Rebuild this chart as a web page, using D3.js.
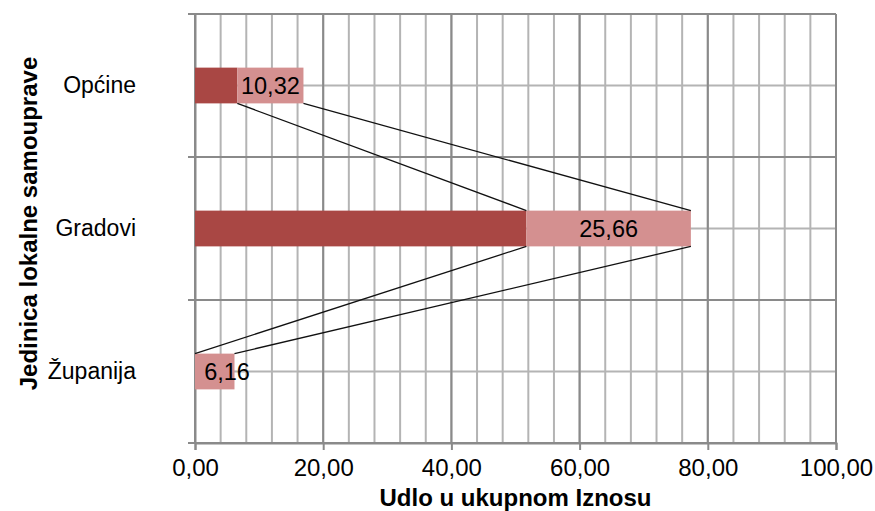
<!DOCTYPE html>
<html>
<head>
<meta charset="utf-8">
<script src="https://cdn.jsdelivr.net/npm/d3@7"></script>
<style>
  body { margin: 0; background: #fff; }
  text { font-family: "Liberation Sans", Arial, sans-serif; }
</style>
</head>
<body>
<div id="chart"></div>
<script>
const categories = ["Općine", "Gradovi", "Županija"]
const baseValues = [6.6, 51.7, 0]
const topValues = [10.32, 25.66, 6.16]
const majorTicks = [0, 20, 40, 60, 80, 100]
const minorTicks = d3.range(0, 101, 4)

const margin = { top: 14, right: 39, bottom: 68, left: 195 }
const width = 875 - margin.left - margin.right
const height = 511 - margin.top - margin.bottom

const svg = d3.select("#chart")
    .append("svg")
    .attr("width", 875)
    .attr("height", 511)
    .append("g")
    .attr("transform", `translate(${margin.left},${margin.top})`)

const x = d3.scaleLinear().domain([0, 100]).range([0, width])
const y = d3.scaleBand().domain(categories).range([0, height])
const barH = y.bandwidth() * 0.25
const fmt = v => d3.format(".2f")(v).replace(".", ",")

// minor gridlines
svg.selectAll(".vminor")
    .data(minorTicks)
    .join("line")
    .attr("x1", d => x(d)).attr("x2", d => x(d))
    .attr("y1", 0).attr("y2", height)
    .attr("stroke", "#b4b4b4").attr("stroke-width", 2)

svg.selectAll(".hminor")
    .data(categories)
    .join("line")
    .attr("x1", 0).attr("x2", width)
    .attr("y1", d => y(d) + y.bandwidth() / 2).attr("y2", d => y(d) + y.bandwidth() / 2)
    .attr("stroke", "#b4b4b4").attr("stroke-width", 2)

// major gridlines
svg.selectAll(".vmajor")
    .data(majorTicks)
    .join("line")
    .attr("x1", d => x(d)).attr("x2", d => x(d))
    .attr("y1", 0).attr("y2", height)
    .attr("stroke", "#8a8a8a").attr("stroke-width", 2)

svg.selectAll(".hmajor")
    .data([0, ...categories.map(c => y(c) + y.bandwidth())])
    .join("line")
    .attr("x1", 0).attr("x2", width)
    .attr("y1", d => d).attr("y2", d => d)
    .attr("stroke", "#8a8a8a").attr("stroke-width", 2)

// x axis
const xAxis = svg.append("g")
    .attr("transform", `translate(0,${height})`)
    .call(d3.axisBottom(x).tickValues(majorTicks).tickFormat(fmt).tickSize(7).tickPadding(9))
xAxis.select(".domain").attr("stroke", "#8a8a8a").attr("stroke-width", 2)
xAxis.selectAll(".tick line").attr("stroke", "#8a8a8a").attr("stroke-width", 2)
xAxis.selectAll("text").attr("font-size", 24).attr("fill", "#000")

// y axis
const yAxis = svg.append("g")
    .call(d3.axisLeft(y).tickSize(0).tickPadding(59))
yAxis.select(".domain").attr("stroke", "#8a8a8a").attr("stroke-width", 2)
yAxis.selectAll("text").attr("font-size", 23).attr("fill", "#000")
svg.selectAll(".ytick")
    .data([0, ...categories.map(c => y(c) + y.bandwidth())])
    .join("line")
    .attr("x1", -7).attr("x2", 0)
    .attr("y1", d => d).attr("y2", d => d)
    .attr("stroke", "#8a8a8a").attr("stroke-width", 2)

// bars
const barY = c => y(c) + (y.bandwidth() - barH) / 2
svg.selectAll(".base")
    .data(categories)
    .join("rect")
    .attr("x", x(0))
    .attr("y", d => barY(d))
    .attr("width", (d, i) => x(baseValues[i]) - x(0))
    .attr("height", barH)
    .attr("fill", "#a94744")

svg.selectAll(".top")
    .data(categories)
    .join("rect")
    .attr("x", (d, i) => x(baseValues[i]))
    .attr("y", d => barY(d))
    .attr("width", (d, i) => x(baseValues[i] + topValues[i]) - x(baseValues[i]))
    .attr("height", barH)
    .attr("fill", "#d49090")

// series lines
const seriesEnds = [baseValues, baseValues.map((v, i) => v + topValues[i])]
seriesEnds.forEach(ends => {
    for (let i = 0; i < categories.length - 1; i++) {
        svg.append("line")
            .attr("x1", x(ends[i]))
            .attr("y1", barY(categories[i]) + barH)
            .attr("x2", x(ends[i + 1]))
            .attr("y2", barY(categories[i + 1]))
            .attr("stroke", "#111")
            .attr("stroke-width", 1.3)
    }
})

// value labels (small segments: label sits a bit to the right like in Excel)
svg.selectAll(".lbl")
    .data(categories)
    .join("text")
    .attr("x", (d, i) => Math.max(x(baseValues[i] + topValues[i] / 2), x(baseValues[i]) + 32))
    .attr("y", d => barY(d) + barH / 2)
    .attr("dy", "0.36em")
    .attr("text-anchor", "middle")
    .attr("font-size", 23.5)
    .text((d, i) => fmt(topValues[i]))

// axis titles
svg.append("text")
    .attr("x", width / 2)
    .attr("y", height + 63)
    .attr("text-anchor", "middle")
    .attr("font-size", 24)
    .attr("font-weight", "bold")
    .text("Udlo u ukupnom Iznosu")

svg.append("text")
    .attr("transform", "rotate(-90)")
    .attr("x", -height / 2 + 5)
    .attr("y", -158)
    .attr("text-anchor", "middle")
    .attr("font-size", 24)
    .attr("font-weight", "bold")
    .text("Jedinica lokalne samouprave")
</script>
</body>
</html>
